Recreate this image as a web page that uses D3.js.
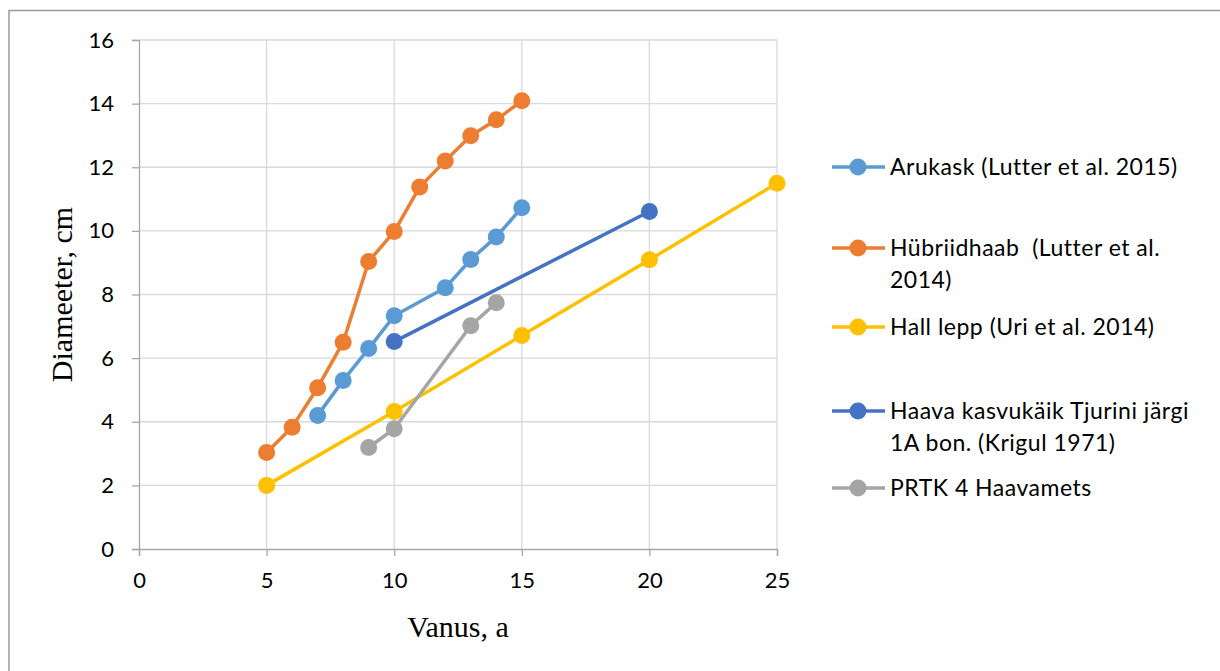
<!DOCTYPE html>
<html>
<head>
<meta charset="utf-8">
<script src="https://cdn.jsdelivr.net/npm/d3@7"></script>
<style>
  body { margin: 0; background: #fff; }
  text { font-family: Lato, "Open Sans", sans-serif; fill: #000; }
  .serif { font-family: "Liberation Serif", "DejaVu Serif", serif; }
  .legend text { white-space: pre; }
</style>
</head>
<body>
<div id="chart"></div>
<script>

// series names as in the legend (line breaks where the legend wraps)
let seriesNames = [
    ["Arukask (Lutter et al. 2015)"],
    ["Hübriidhaab  (Lutter et al.", "2014)"],
    ["Hall lepp (Uri et al. 2014)"],
    ["Haava kasvukäik Tjurini järgi", "1A bon. (Krigul 1971)"],
    ["PRTK 4 Haavamets"]
];
let seriesColors = ["#5B9BD5", "#ED7D31", "#FFC000", "#4472C4", "#A5A5A5"];

// age (x) and diameter (y) per series
let arukaskAge = [7, 8, 9, 10, 12, 13, 14, 15];
let arukaskDiam = [4.2, 5.3, 6.3, 7.33, 8.21, 9.1, 9.81, 10.73];

let hybridAge = [5, 6, 7, 8, 9, 10, 11, 12, 13, 14, 15];
let hybridDiam = [3.03, 3.83, 5.07, 6.5, 9.04, 9.98, 11.38, 12.2, 12.99, 13.49, 14.09];

let hallAge = [5, 10, 15, 20, 25];
let hallDiam = [2.0, 4.32, 6.71, 9.09, 11.5];

let haavaAge = [10, 20];
let haavaDiam = [6.52, 10.61];

let prtkAge = [9, 10, 13, 14];
let prtkDiam = [3.19, 3.78, 7.02, 7.74];

let xTicks = [0, 5, 10, 15, 20, 25];
let yTicks = [0, 2, 4, 6, 8, 10, 12, 14, 16];

let seriesData = [
    d3.zip(arukaskAge, arukaskDiam),
    d3.zip(hybridAge, hybridDiam),
    d3.zip(hallAge, hallDiam),
    d3.zip(haavaAge, haavaDiam),
    d3.zip(prtkAge, prtkDiam)
];

let width = 1220, height = 671;
let margin = {top: 40, left: 139, right: 443, bottom: 122};

let svg = d3.select("#chart").append("svg")
    .attr("width", width)
    .attr("height", height);

// outer chart frame (right and bottom edges fall outside the picture)
svg.append("rect")
    .attr("x", 9).attr("y", 10.5)
    .attr("width", 1300).attr("height", 800)
    .attr("fill", "none")
    .attr("stroke", "#9a9a9a")
    .attr("stroke-width", 1.5);

let x = d3.scaleLinear().domain([0, 25]).range([margin.left, width - margin.right]);
let y = d3.scaleLinear().domain([0, 16]).range([height - margin.bottom, margin.top]);

// gridlines
svg.append("g").selectAll("line")
    .data(yTicks.filter(d => d > 0))
    .enter().append("line")
    .attr("x1", x(0)).attr("x2", x(25))
    .attr("y1", d => y(d)).attr("y2", d => y(d))
    .attr("stroke", "#d9d9d9").attr("stroke-width", 1.3);

svg.append("g").selectAll("line")
    .data(xTicks.filter(d => d > 0))
    .enter().append("line")
    .attr("x1", d => x(d)).attr("x2", d => x(d))
    .attr("y1", y(0)).attr("y2", y(16))
    .attr("stroke", "#d9d9d9").attr("stroke-width", 1.3);

// axes
let yAxis = svg.append("g")
    .attr("transform", `translate(${x(0)},0)`)
    .call(d3.axisLeft(y).tickValues(yTicks).tickSize(7).tickPadding(18));

let xAxis = svg.append("g")
    .attr("transform", `translate(0,${y(0)})`)
    .call(d3.axisBottom(x).tickValues(xTicks).tickSize(7).tickPadding(16));

[yAxis, xAxis].forEach(ax => {
    ax.select(".domain").attr("stroke", "#a6a6a6").attr("stroke-width", 1.3);
    ax.selectAll(".tick line").attr("stroke", "#a6a6a6").attr("stroke-width", 1.3);
    ax.selectAll(".tick text")
        .style("font-family", "Lato, sans-serif")
        .style("font-size", "22px")
        .attr("fill", "#000");
});

// axis titles
svg.append("text")
    .attr("class", "serif")
    .attr("x", (x(0) + x(25)) / 2)
    .attr("y", 637)
    .attr("text-anchor", "middle")
    .style("font-size", "30px")
    .text("Vanus, a");

svg.append("text")
    .attr("class", "serif")
    .attr("transform", `translate(72,${(y(0) + y(16)) / 2}) rotate(-90)`)
    .attr("text-anchor", "middle")
    .style("font-size", "30px")
    .text("Diameeter, cm");

// lines and markers
let line = d3.line().x(d => x(d[0])).y(d => y(d[1]));

seriesData.forEach((data, i) => {
    let g = svg.append("g");
    g.append("path")
        .attr("d", line(data))
        .attr("fill", "none")
        .attr("stroke", seriesColors[i])
        .attr("stroke-width", 3.5)
        .attr("stroke-linejoin", "round");
    g.selectAll("circle")
        .data(data)
        .enter().append("circle")
        .attr("cx", d => x(d[0]))
        .attr("cy", d => y(d[1]))
        .attr("r", 8.5)
        .attr("fill", seriesColors[i]);
});

// legend
let legendY = [167, 248, 327, 411, 488];
let legend = svg.append("g").attr("class", "legend");

seriesNames.forEach((name, i) => {
    let g = legend.append("g").attr("transform", `translate(0,${legendY[i]})`);
    g.append("line")
        .attr("x1", 832).attr("x2", 885)
        .attr("y1", 0).attr("y2", 0)
        .attr("stroke", seriesColors[i])
        .attr("stroke-width", 3.5);
    g.append("circle")
        .attr("cx", 858).attr("cy", 0).attr("r", 8.5)
        .attr("fill", seriesColors[i]);
    name.forEach((t, j) => {
        g.append("text")
            .attr("x", 890)
            .attr("y", j * 32)
            .attr("dy", "0.35em")
            .style("font-size", "23px")
            .style("letter-spacing", "0.5px")
            .text(t);
    });
});

</script>
</body>
</html>
